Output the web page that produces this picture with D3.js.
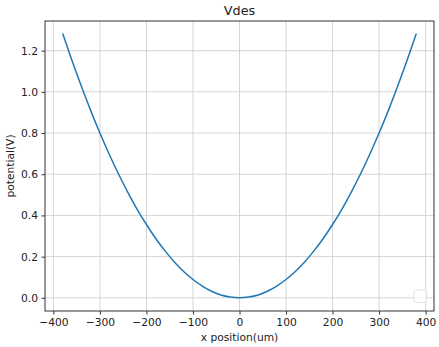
<!DOCTYPE html>
<html>
<head>
<meta charset="utf-8">
<script src="https://cdn.jsdelivr.net/npm/d3@7"></script>
<style>
  body { margin: 0; background: #fff; }
  svg { font-family: "DejaVu Sans", sans-serif; }
</style>
</head>
<body>
<div id="chart"></div>
<script>
// values
const xPos = [-380, -360, -340, -320, -300, -280, -260, -240, -220, -200, -180, -160, -140, -120, -100, -80, -60, -40, -20,
  0, 20, 40, 60, 80, 100, 120, 140, 160, 180, 200, 220, 240, 260, 280, 300, 320, 340, 360, 380];
const potential = [1.283, 1.152, 1.028, 0.910, 0.800, 0.697, 0.601, 0.512, 0.430, 0.356, 0.288, 0.228, 0.174, 0.128, 0.089, 0.057, 0.032, 0.014, 0.004,
  0, 0.004, 0.014, 0.032, 0.057, 0.089, 0.128, 0.174, 0.228, 0.288, 0.356, 0.430, 0.512, 0.601, 0.697, 0.800, 0.910, 1.028, 1.152, 1.283];
const xTicks = [-400, -300, -200, -100, 0, 100, 200, 300, 400];
const yTicks = [0.0, 0.2, 0.4, 0.6, 0.8, 1.0, 1.2];

const W = 439, H = 347;
const m = {left: 45, top: 21, right: 5, bottom: 36};
const fs = 10.7;

const svg = d3.select("#chart").append("svg")
    .attr("width", W).attr("height", H);

const x = d3.scaleLinear().domain([-418, 418]).range([m.left, W - m.right]);
const y = d3.scaleLinear().domain([-0.064, 1.344]).range([H - m.bottom, m.top]);

// grid
const grid = svg.append("g").attr("stroke", "#d0d0d0").attr("stroke-width", 0.9);
grid.selectAll(".gx").data(xTicks).join("line")
    .attr("x1", d => x(d)).attr("x2", d => x(d))
    .attr("y1", m.top).attr("y2", H - m.bottom);
grid.selectAll(".gy").data(yTicks).join("line")
    .attr("y1", d => y(d)).attr("y2", d => y(d))
    .attr("x1", m.left).attr("x2", W - m.right);

// curve
const pts = xPos.map((d, i) => [d, potential[i]]);
svg.append("path")
    .datum(pts)
    .attr("fill", "none")
    .attr("stroke", "#1f77b4")
    .attr("stroke-width", 1.5)
    .attr("d", d3.line().x(d => x(d[0])).y(d => y(d[1])).curve(d3.curveMonotoneX));

// axes
const xAxis = svg.append("g")
    .attr("transform", `translate(0,${H - m.bottom})`)
    .call(d3.axisBottom(x).tickValues(xTicks).tickSize(3.5).tickPadding(3.5)
        .tickFormat(d => d3.format("d")(d).replace("-", "\u2212")));
const yAxis = svg.append("g")
    .attr("transform", `translate(${m.left},0)`)
    .call(d3.axisLeft(y).tickValues(yTicks).tickSize(3.5).tickPadding(3.5).tickFormat(d3.format(".1f")));

[xAxis, yAxis].forEach(a => {
  a.select(".domain").remove();
  a.selectAll("text").attr("font-size", fs).attr("fill", "#222").attr("font-family", "DejaVu Sans");
  a.selectAll("line").attr("stroke", "#333");
});

// frame
svg.append("rect")
    .attr("x", m.left).attr("y", m.top)
    .attr("width", W - m.right - m.left).attr("height", H - m.bottom - m.top)
    .attr("fill", "none").attr("stroke", "#333").attr("stroke-width", 1);

// empty legend box
svg.append("rect")
    .attr("x", 414).attr("y", 290).attr("width", 12.5).attr("height", 12.5)
    .attr("rx", 2).attr("fill", "#fff").attr("fill-opacity", 0.8)
    .attr("stroke", "#dcdcdc").attr("stroke-width", 0.8);

// labels
svg.append("text")
    .attr("x", (m.left + W - m.right) / 2).attr("y", 15)
    .attr("text-anchor", "middle").attr("font-size", 12.8).attr("fill", "#222")
    .text("Vdes");
svg.append("text")
    .attr("x", (m.left + W - m.right) / 2).attr("y", 341)
    .attr("text-anchor", "middle").attr("font-size", fs).attr("fill", "#222")
    .text("x position(um)");
svg.append("text")
    .attr("transform", `translate(14,${(m.top + H - m.bottom) / 2}) rotate(-90)`)
    .attr("text-anchor", "middle").attr("font-size", fs).attr("fill", "#222")
    .text("potential(V)");
</script>
</body>
</html>
